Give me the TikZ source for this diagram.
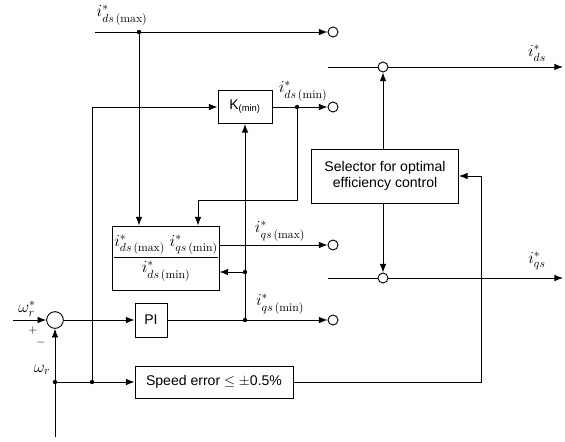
\documentclass[tikz,border=0pt]{standalone}
\usepackage{amsmath}
\usepackage{fontspec}
\setsansfont{Liberation Sans}
\usetikzlibrary{arrows.meta}

\tikzset{
  sig/.style={thick, -{Latex[length=2.6mm,width=2mm]}},
  wire/.style={thick},
  blockbox/.style={draw, thick, rectangle, inner sep=0pt, font=\sffamily\large},
  contact/.style={draw, thick, circle, minimum size=0.3cm, inner sep=0pt},
  junction/.style={fill, circle, minimum size=1.3mm, inner sep=0pt},
  sumpt/.style={draw, thick, circle, minimum size=0.5cm, inner sep=0pt},
  sigtext/.style={font=\Large}
}
\newcommand{\cur}[2]{$i^{*}_{#1\,\mathrm{(#2)}}$}

\begin{document}
\begin{tikzpicture}[x=0.03cm, y=-0.03cm]
        \useasboundingbox (0,0) rectangle (565,441);

        % Blocks
        \node[blockbox, minimum width=1.62cm, minimum height=0.99cm] (kmin) at (245,107) {K\textsubscript{(min)}};
        \node[blockbox, minimum width=3.12cm, minimum height=1.92cm, font=\Large] (ratio) at (166,258)
            {$\dfrac{i^{*}_{ds\,\mathrm{(max)}}\; i^{*}_{qs\,\mathrm{(min)}}}{i^{*}_{ds\,\mathrm{(min)}}}$};
        \node[blockbox, minimum width=0.96cm, minimum height=1.02cm] (pi) at (151,320) {PI};
        \node[blockbox, minimum width=4.74cm, minimum height=0.96cm] (speed) at (214,382) {Speed error $\leq\pm$0.5\%};
        \node[blockbox, minimum width=4.41cm, minimum height=1.62cm, align=center] (sel) at (385,176)
            {Selector for optimal\\efficiency control};
        \node[sumpt] (sum) at (55,320) {};

        % Switch contacts
        \node[contact] (cdmax) at (333,32) {};
        \node[contact] (cdmin) at (333,107) {};
        \node[contact] (cqmax) at (333,245) {};
        \node[contact] (cqmin) at (333,320) {};
        \node[contact] (cds) at (383,67) {};
        \node[contact] (cqs) at (383,278) {};

        % Free ends and corners
        \coordinate (dmaxin) at (95,32);
        \coordinate (wref) at (13,320);
        \coordinate (wfb) at (55,437);
        \coordinate (dsin) at (328,67);
        \coordinate (dsout) at (563,67);
        \coordinate (qsin) at (328,278);
        \coordinate (qsout) at (563,278);
        \coordinate (errc) at (481,382);

        % Junctions
        \node[junction] (j1) at (139,32) {};
        \node[junction] (j2) at (297,107) {};
        \node[junction] (j3) at (245,320) {};
        \node[junction] (j4) at (245,272) {};
        \node[junction] (j5) at (55,382) {};
        \node[junction] (j6) at (92,382) {};

        % Left part
        \draw[sig] (dmaxin) -- (cdmax);
        \draw[sig] (j1) -- (j1 |- ratio.north);
        \draw[sig] (j6) -- (92,107) -- (kmin.west);
        \draw[sig] (kmin.east) -- (cdmin);
        \draw[sig] (j2) -- (297,200) -- (198,200) -- (198,0 |- ratio.north);
        \draw[sig] (ratio.east |- cqmax) -- (cqmax);
        \draw[sig] (pi.east) -- (cqmin);
        \draw[sig] (j3) -- (kmin.south -| j3);
        \draw[sig] (j4) -- (ratio.east |- j4);
        \draw[sig] (wref) -- (sum.west);
        \draw[sig] (sum.east) -- (pi.west);
        \draw[sig] (wfb) -- (sum.south);
        \draw[sig] (j5) -- (speed.west);
        \draw[sig] (speed.east) -- (errc) -- (errc |- sel.east) -- (sel.east);

        % Right part
        \draw[wire] (dsin) -- (cds);
        \draw[sig] (cds) -- (dsout);
        \draw[sig] (sel.north -| cds) -- (cds);
        \draw[wire] (qsin) -- (cqs);
        \draw[sig] (cqs) -- (qsout);
        \draw[sig] (sel.south -| cqs) -- (cqs);

        % Labels
        \node[sigtext] (ldmax) at (122,15) {\cur{ds}{max}};
        \node[sigtext] (ldmin) at (303,91) {\cur{ds}{min}};
        \node[sigtext] (lqmax) at (280,231) {\cur{qs}{max}};
        \node[sigtext] (lqmin) at (280,304) {\cur{qs}{min}};
        \node[sigtext] (lds) at (537,53) {$i^{*}_{ds}$};
        \node[sigtext] (lqs) at (537,261) {$i^{*}_{qs}$};
        \node[sigtext] (lwref) at (27,309) {$\omega^{*}_{r}$};
        \node (lplus) at (33,331) {$+$};
        \node (lminus) at (41,343) {$-$};
        \node[sigtext] (lwr) at (42,370) {$\omega_{r}$};

\end{tikzpicture}
\end{document}
